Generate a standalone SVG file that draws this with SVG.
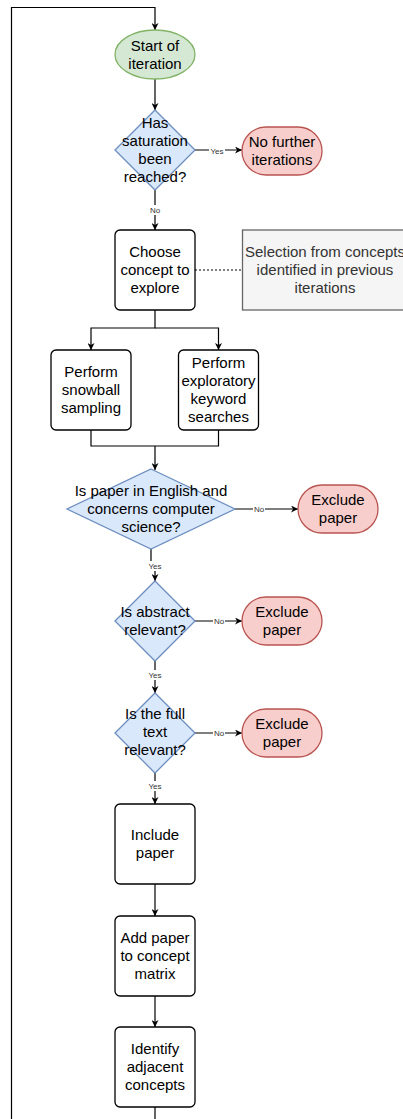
<svg xmlns="http://www.w3.org/2000/svg" width="403" height="1119" viewBox="0 0 403 1119">
  <defs>
    <marker id="arrow" viewBox="0 0 10 10" refX="10" refY="5" markerWidth="7" markerHeight="7" markerUnits="userSpaceOnUse" orient="auto">
      <path d="M0 0 L10 5 L0 10 L3 5 Z" fill="#000"/>
    </marker>
    <style>
      text { font-family: "Liberation Sans", Arial, sans-serif; font-size: 15px; fill: #000; text-anchor: middle; }
      .edge { fill: none; stroke: #000; stroke-width: 1.2; }
      .arr { marker-end: url(#arrow); }
      .lbl-bg { fill: #fff; }
      .lbl { font-size: 8px; fill: #333; }
      .proc { fill: #fff; stroke: #000; stroke-width: 1.3; }
      .dec { fill: #dae8fc; stroke: #6c8ebf; stroke-width: 1.3; }
      .term-red { fill: #f8cecc; stroke: #b85450; stroke-width: 1.3; }
      .term-green { fill: #d5e8d4; stroke: #82b366; stroke-width: 1.3; }
      .note { fill: #f5f5f5; stroke: #666; stroke-width: 1.3; }
      .note-text { fill: #333; }
    </style>
  </defs>

  <rect width="403" height="1119" fill="#fff"/>

  <!-- connectors -->
  <g id="connectors">
    <path class="edge arr" d="M155 1107 V1130 H11.5 V7.5 H155 V30"/>
    <path class="edge arr" d="M155 79 V110"/>
    <path class="edge arr" d="M195 150 H242"/>
    <path class="edge arr" d="M155 190 V230"/>
    <path class="edge" d="M195 270 H242" stroke-dasharray="2 2" stroke-width="1"/>
    <path class="edge arr" d="M155 310 V328 H91 V350"/>
    <path class="edge arr" d="M155 328 H218.5 V350"/>
    <path class="edge" d="M91 430 V446 H218.5 V430"/>
    <path class="edge arr" d="M155 446 V470"/>
    <path class="edge arr" d="M235 509 H298"/>
    <path class="edge arr" d="M151 549 V566 H155 V581"/>
    <path class="edge arr" d="M195 621 H242"/>
    <path class="edge arr" d="M155 661 V693"/>
    <path class="edge arr" d="M195 733 H242"/>
    <path class="edge arr" d="M155 772 V804"/>
    <path class="edge arr" d="M155 884 V916"/>
    <path class="edge arr" d="M155 996 V1027"/>

    <!-- edge labels -->
    <rect class="lbl-bg" x="209" y="146" width="16" height="10"/>
    <text class="lbl" x="217" y="154">Yes</text>
    <rect class="lbl-bg" x="149" y="205" width="12" height="10"/>
    <text class="lbl" x="155" y="213">No</text>
    <rect class="lbl-bg" x="253" y="504" width="12" height="10"/>
    <text class="lbl" x="259" y="512">No</text>
    <rect class="lbl-bg" x="147" y="561" width="16" height="10"/>
    <text class="lbl" x="155" y="569">Yes</text>
    <rect class="lbl-bg" x="213" y="616" width="12" height="10"/>
    <text class="lbl" x="219" y="624">No</text>
    <rect class="lbl-bg" x="147" y="670" width="16" height="10"/>
    <text class="lbl" x="155" y="678">Yes</text>
    <rect class="lbl-bg" x="213" y="728" width="12" height="10"/>
    <text class="lbl" x="219" y="736">No</text>
    <rect class="lbl-bg" x="147" y="781" width="16" height="10"/>
    <text class="lbl" x="155" y="789">Yes</text>
  </g>

  <!-- nodes -->
  <g id="start">
    <ellipse class="term-green" cx="155" cy="54.5" rx="40" ry="24.5"/>
    <text x="155" y="51">Start of</text>
    <text x="155" y="69">iteration</text>
  </g>

  <g id="saturation">
    <polygon class="dec" points="155,110 195,150 155,190 115,150"/>
    <text x="155" y="128">Has</text>
    <text x="155" y="146">saturation</text>
    <text x="155" y="164">been</text>
    <text x="155" y="182">reached?</text>
  </g>

  <g id="no-further">
    <rect class="term-red" x="242" y="127" width="80" height="48" rx="24"/>
    <text x="282" y="147">No further</text>
    <text x="282" y="165">iterations</text>
  </g>

  <g id="choose">
    <rect class="proc" x="115" y="230" width="80" height="80" rx="5"/>
    <text x="155" y="257">Choose</text>
    <text x="155" y="275">concept to</text>
    <text x="155" y="293">explore</text>
  </g>

  <g id="selection-note">
    <rect class="note" x="242.5" y="230" width="170" height="80"/>
    <text class="note-text" x="325" y="257">Selection from concepts</text>
    <text class="note-text" x="325" y="275">identified in previous</text>
    <text class="note-text" x="325" y="293">iterations</text>
  </g>

  <g id="snowball">
    <rect class="proc" x="51" y="350" width="80" height="80" rx="5"/>
    <text x="91" y="377">Perform</text>
    <text x="91" y="395">snowball</text>
    <text x="91" y="413">sampling</text>
  </g>

  <g id="keyword">
    <rect class="proc" x="178.5" y="350" width="80" height="80" rx="5"/>
    <text x="218.5" y="368">Perform</text>
    <text x="218.5" y="386">exploratory</text>
    <text x="218.5" y="404">keyword</text>
    <text x="218.5" y="422">searches</text>
  </g>

  <g id="english-cs">
    <polygon class="dec" points="151,469 235,509 151,549 67,509"/>
    <text x="151" y="496">Is paper in English and</text>
    <text x="151" y="514">concerns computer</text>
    <text x="151" y="532">science?</text>
  </g>

  <g id="exclude-1">
    <rect class="term-red" x="298" y="485" width="80" height="48" rx="24"/>
    <text x="338" y="505">Exclude</text>
    <text x="338" y="523">paper</text>
  </g>

  <g id="abstract">
    <polygon class="dec" points="155,581 195,621 155,661 115,621"/>
    <text x="155" y="617">Is abstract</text>
    <text x="155" y="635">relevant?</text>
  </g>

  <g id="exclude-2">
    <rect class="term-red" x="242" y="597" width="80" height="48" rx="24"/>
    <text x="282" y="617">Exclude</text>
    <text x="282" y="635">paper</text>
  </g>

  <g id="full-text">
    <polygon class="dec" points="155,693 195,733 155,773 115,733"/>
    <text x="155" y="719">Is the full</text>
    <text x="155" y="737">text</text>
    <text x="155" y="755">relevant?</text>
  </g>

  <g id="exclude-3">
    <rect class="term-red" x="242" y="709" width="80" height="48" rx="24"/>
    <text x="282" y="729">Exclude</text>
    <text x="282" y="747">paper</text>
  </g>

  <g id="include">
    <rect class="proc" x="115" y="804" width="80" height="80" rx="5"/>
    <text x="155" y="840">Include</text>
    <text x="155" y="858">paper</text>
  </g>

  <g id="add-matrix">
    <rect class="proc" x="115" y="916" width="80" height="80" rx="5"/>
    <text x="155" y="943">Add paper</text>
    <text x="155" y="961">to concept</text>
    <text x="155" y="979">matrix</text>
  </g>

  <g id="adjacent">
    <rect class="proc" x="115" y="1027" width="80" height="80" rx="5"/>
    <text x="155" y="1054">Identify</text>
    <text x="155" y="1072">adjacent</text>
    <text x="155" y="1090">concepts</text>
  </g>
</svg>
